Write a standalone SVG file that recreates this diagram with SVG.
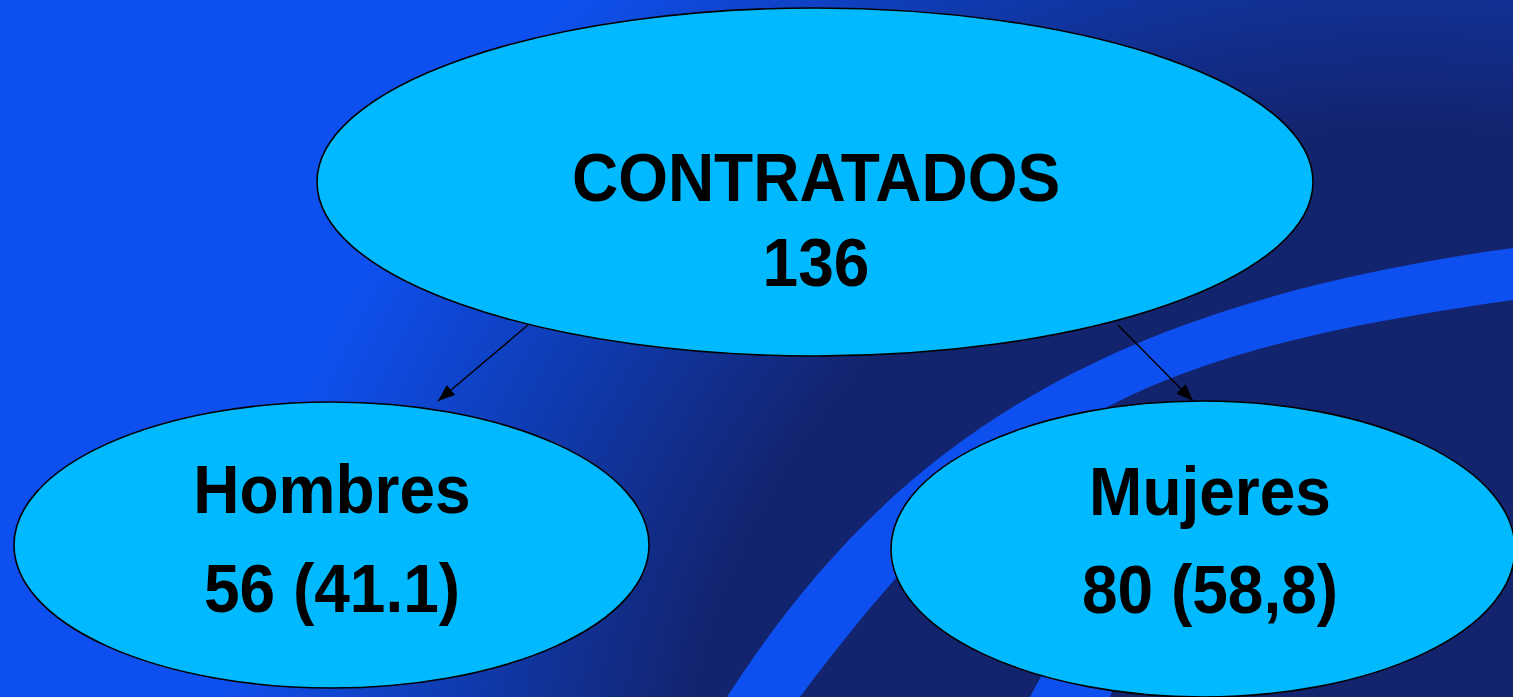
<svg xmlns="http://www.w3.org/2000/svg" width="1513" height="697" viewBox="0 0 1513 697">
  <defs>
    <radialGradient id="bg" gradientUnits="userSpaceOnUse" cx="1400" cy="850" r="1250">
      <stop offset="0" stop-color="#13236e"/>
      <stop offset="0.58" stop-color="#13246f"/>
      <stop offset="0.76" stop-color="#0f3aae"/>
      <stop offset="0.95" stop-color="#0e50ef"/>
      <stop offset="1" stop-color="#0e50ef"/>
    </radialGradient>
    <marker id="arrow" markerUnits="userSpaceOnUse" markerWidth="17" markerHeight="13" refX="17" refY="6.5" orient="auto">
      <path d="M0,0 L17,6.5 L0,13 z" fill="#000"/>
    </marker>
    <style>
      .node ellipse { fill: #00b9fe; stroke: #000; stroke-width: 1.6; }
      .node text { font-family: "Liberation Sans", Arial, sans-serif; font-weight: bold; font-size: 64px; fill: #000; text-anchor: middle; }
      .band { fill: #0e50ef; }
      .conn { stroke: #000; stroke-width: 1.5; fill: none; marker-end: url(#arrow); }
    </style>
  </defs>

  <rect x="0" y="0" width="1513" height="697" fill="url(#bg)"/>

  <g id="background-bands">
    <path class="band" d="M727,697 C884,454 1087,306 1513,248 L1513,300 C1130,354 1005,424 800,697 Z"/>
    <path class="band" d="M1030,697 Q1100,560 1250,480 L1300,480 Q1150,570 1110,697 Z"/>
  </g>

  <g id="connectors">
    <line class="conn" x1="528" y1="325" x2="438" y2="401"/>
    <line class="conn" x1="1118" y1="325" x2="1193" y2="401"/>
  </g>

  <g id="node-contratados" class="node">
    <ellipse cx="815" cy="182" rx="498" ry="174"/>
    <text transform="translate(816,201) scale(1,1.06)">CONTRATADOS</text>
    <text transform="translate(816,286) scale(1,1.06)">136</text>
  </g>

  <g id="node-hombres" class="node">
    <ellipse cx="331.5" cy="545" rx="317.5" ry="143"/>
    <text transform="translate(332,513) scale(1,1.06)">Hombres</text>
    <text transform="translate(332,612) scale(1,1.06)">56 (41.1)</text>
  </g>

  <g id="node-mujeres" class="node">
    <ellipse cx="1203" cy="549" rx="312" ry="148"/>
    <text transform="translate(1210,515) scale(1,1.06)">Mujeres</text>
    <text transform="translate(1210,613) scale(1,1.06)">80 (58,8)</text>
  </g>
</svg>
